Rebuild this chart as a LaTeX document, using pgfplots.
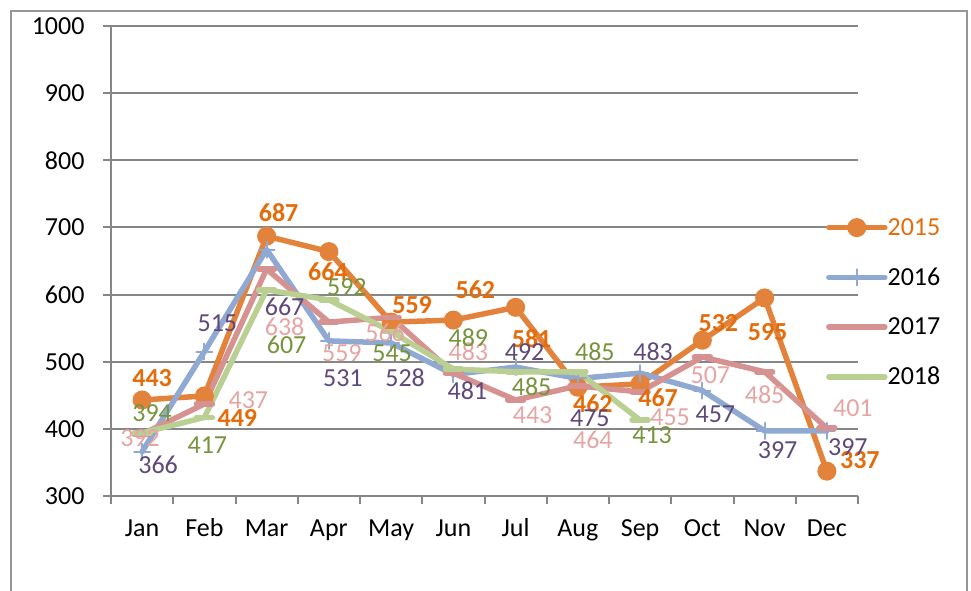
\documentclass[border=0pt]{standalone}
\usepackage{pgfplots}
\pgfplotsset{compat=1.18}
\usepackage{pgfplotstable}
\usepackage{fontspec}
\setmainfont{Carlito}
\definecolor{cA}{RGB}{227,130,58}
\definecolor{cAt}{RGB}{228,108,10}
\definecolor{cB}{RGB}{143,169,211}
\definecolor{cBt}{RGB}{95,73,122}
\definecolor{cC}{RGB}{214,146,144}
\definecolor{cCt}{RGB}{230,165,163}
\definecolor{cD}{RGB}{186,208,147}
\definecolor{cDt}{RGB}{119,147,60}
\definecolor{gridc}{RGB}{134,134,134}
\definecolor{borderc}{RGB}{150,150,150}

\pgfplotstableread{
x y dx dy
0 443 10 22
1 449 33 -22
2 687 12 24
3 664 -1 -20
4 559 21 17
5 562 22 30
6 581 16 -31
7 462 15 -16
8 467 18 -14
9 532 16 17
10 595 3 -34
11 337 33 11
}\tA
\pgfplotstableread{
x y dx dy
0 366 16 -13
1 515 13 28
2 667 18 -57
3 531 14 -37
4 528 14 -35
5 481 14 -16
6 492 9 15
7 475 12 -40
8 483 13 21
9 457 13 -24
10 397 13 -19
11 397 21 -16
}\tB
\pgfplotstableread{
x y dx dy
0 392 -2 -4
1 437 44 4
2 638 18 -58
3 559 13 -31
4 566 -6 -15
5 483 15 21
6 443 17 -15
7 464 15 -54
8 455 30 -25
9 507 8 -18
10 485 0 -23
11 401 26 20
}\tC
\pgfplotstableread{
x y dx dy
0 394 10 20
1 417 3 -28
2 607 20 -55
3 592 18 13
4 545 1 -22
5 489 15 31
6 485 16 -15
7 485 17 20
8 413 12 -15
}\tD

\pgfplotsset{
  lbl/.style={only marks, mark=none, forget plot,
    point meta=explicit symbolic, nodes near coords,
    visualization depends on={\thisrow{dx}\as\dx},
    visualization depends on={\thisrow{dy}\as\dy},
    every node near coord/.append style={anchor=center, inner sep=0pt,
      xshift=\dx pt, yshift=\dy pt, text=#1}},
}

\begin{document}
\begin{tikzpicture}[x=1pt,y=1pt,font=\fontsize{26}{30}\selectfont]
\useasboundingbox (0,0) rectangle (971,591);
\draw[borderc, line width=1.5pt] (11,-20) rectangle (967,580);
\begin{axis}[
  at={(111pt,95pt)}, anchor=south west,
  scale only axis, width=747pt, height=470pt,
  xmin=-0.5, xmax=11.5, ymin=300, ymax=1000,
  clip=false,
  axis lines*=left,
  axis line style={gridc, line width=2.5pt, -},
  xtick={-0.5,0.5,...,11.5},
  x tick label as interval=true,
  xticklabels={Jan,Feb,Mar,Apr,May,Jun,Jul,Aug,Sep,Oct,Nov,Dec},
  ytick={300,400,...,1000},
  ymajorgrids,
  grid style={gridc, line width=2pt},
  tick style={gridc, line width=2pt},
  tick align=outside,
  major tick length=8pt,
  /pgf/number format/assume math mode=true,
  /pgf/number format/1000 sep={},
  yticklabel style={xshift=-15pt},
  xticklabel style={yshift=-12pt, text height=17pt, text depth=5pt},
  legend style={at={(0.957,0.591)}, anchor=north west, draw=none, fill=none,
    inner sep=0pt, row sep=31pt,
    nodes={inner sep=0pt, anchor=west},
    /tikz/every even column/.append style={column sep=4pt}},
  legend cell align=left,
  legend image code/.code={\draw[mark repeat=2,mark phase=2] plot coordinates {(0pt,0pt) (28pt,0pt) (56pt,0pt)};},
  every axis plot/.append style={line join=round, line cap=round},
]
\addplot[cA, line width=5.5pt, mark=*, mark size=9pt, mark options={solid, fill=cA, draw=cA, line width=1pt}] table[x=x,y=y]{\tA};
\addplot[cB, line width=5.5pt, mark=+, mark size=8pt, mark options={solid, line width=2pt}] table[x=x,y=y]{\tB};
\addplot[cC, line width=5.5pt, mark=-, mark size=8pt, mark options={solid, line width=5.5pt}] table[x=x,y=y]{\tC};
\addplot[cD, line width=5.5pt, mark=-, mark size=8pt, mark options={solid, line width=5.5pt}] table[x=x,y=y]{\tD};
\legend{\textcolor{cAt}{2015},2016,2017,2018}
\addplot[lbl=cAt, every node near coord/.append style={font=\fontsize{26}{30}\selectfont\bfseries}] table[x=x,y=y,meta=y]{\tA};
\addplot[lbl=cBt] table[x=x,y=y,meta=y]{\tB};
\addplot[lbl=cCt] table[x=x,y=y,meta=y]{\tC};
\addplot[lbl=cDt] table[x=x,y=y,meta=y]{\tD};
\end{axis}
\end{tikzpicture}
\end{document}
